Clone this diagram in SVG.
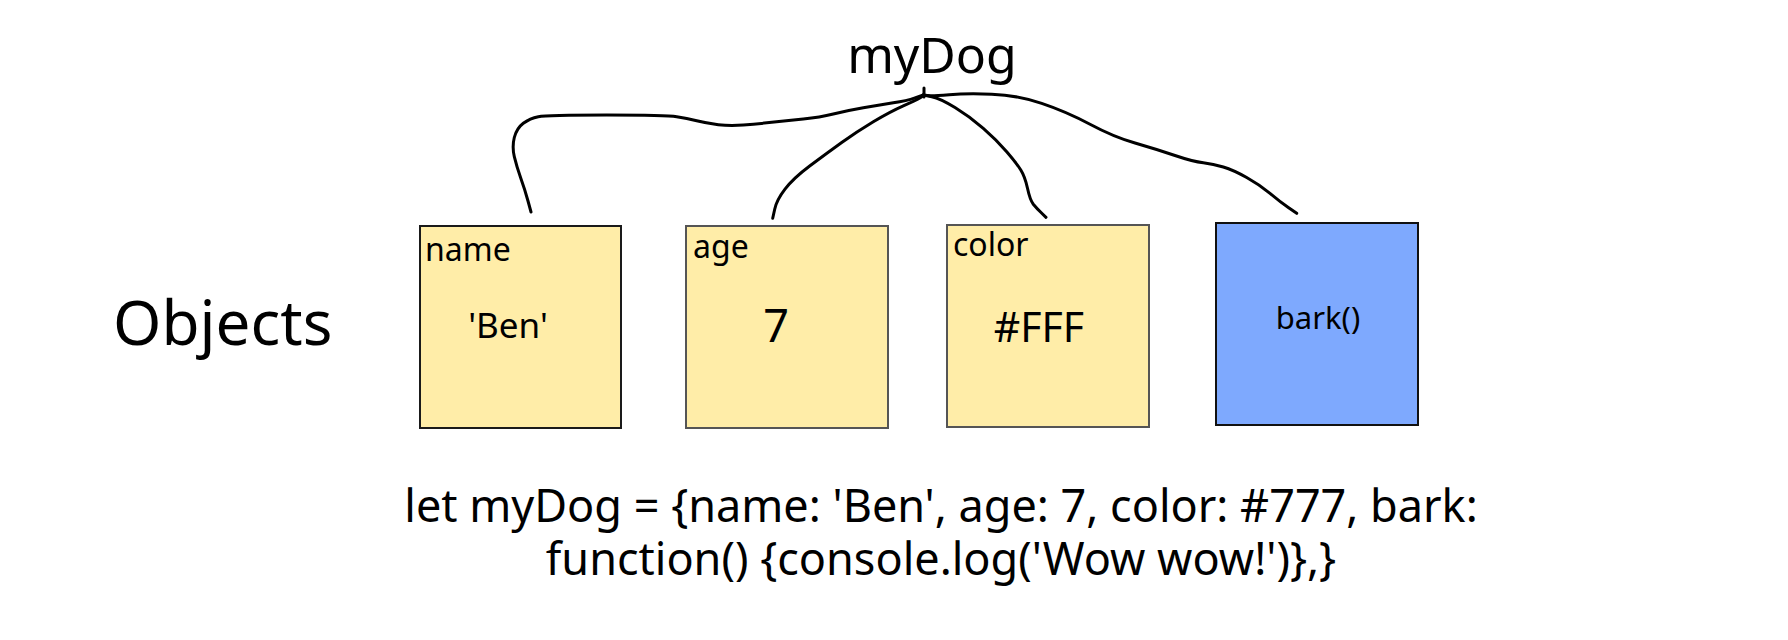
<svg xmlns="http://www.w3.org/2000/svg" width="1788" height="640" viewBox="0 0 1788 640">
<style>
text{font-family:"Noto Sans","Open Sans","DejaVu Sans",sans-serif;fill:#000}
.lbl{font-size:32px}
.val{text-anchor:middle}
.box{fill:#FFEDA8;stroke-width:2}
.blue{fill:#7EA9FE;stroke:#111;stroke-width:2}
.wire{fill:none;stroke:#000;stroke-width:3;stroke-linecap:round;stroke-linejoin:round}
</style>
<rect width="1788" height="640" fill="#fff"/>
<g id="title"><text x="932" y="73" class="val" font-size="50">myDog</text></g>
<g id="objects-label"><text x="113" y="345" font-size="62">Objects</text></g>
<g id="connectors">
<path class="wire" d="M531,212 L528,201 Q525,190 520.8,178.3 Q516.7,166.7 514.3,156.7 Q512,146.7 514.3,137.5 Q516.7,128.3 523.3,123.3 Q530,118.3 538.3,116.7 Q546.7,115 606.7,115 Q666.7,115 676.7,116.7 Q686.7,118.3 696.7,120.8 Q706.7,123.3 718.3,124.7 Q730,126 743.3,125 Q756.7,124 771.7,122.3 Q786.7,120.7 803.3,119 Q820,117.3 833.3,114 Q846.7,110.7 863.3,107.8 Q880,105 893.3,102.8 Q906.7,100.7 915,97.8 L923.3,95"/>
<path class="wire" d="M772.7,218.3 L774.7,209.2 Q776.7,200 785,189.2 Q793.3,178.3 810,165.8 Q826.7,153.3 841.7,142.5 Q856.7,131.7 873.3,121.7 Q890,111.7 903.3,105.8 Q916.7,100 919.8,98 L923,96"/>
<path class="wire" d="M923.3,95 L931.7,96.7 Q940,98.3 955,107.5 Q970,116.7 983.3,128.3 Q996.7,140 1006.7,151.7 Q1016.7,163.3 1020.8,170 Q1025,176.7 1027.5,188.3 Q1030,200 1033.3,204.2 Q1036.7,208.3 1041.3,212.8 L1046,217.3"/>
<path class="wire" d="M923.3,95 L927.5,95.5 Q931.7,96 949.2,94.7 Q966.7,93.3 991.7,94.2 Q1016.7,95 1041.7,103.3 Q1066.7,111.7 1090,124.2 Q1113.3,136.7 1135,143 Q1156.7,149.3 1175,155.5 Q1193.3,161.7 1203.3,162.8 Q1213.3,164 1223.3,167 Q1233.3,170 1246.7,177.5 Q1260,185 1270,193.3 Q1280,201.7 1288.3,207.5 L1296.7,213.3"/>
<path class="wire" d="M924,88 L924,97"/>
</g>
<g id="node-name">
<rect class="box" x="420" y="226" width="201" height="202" stroke="#1a1a1a"/>
<text class="lbl" x="425" y="261">name</text>
<text class="val" x="508" y="338" font-size="35">'Ben'</text>
</g>
<g id="node-age">
<rect class="box" x="686" y="226" width="202" height="202" stroke="#555"/>
<text class="lbl" x="693" y="258">age</text>
<text class="val" x="776" y="342" font-size="45">7</text>
</g>
<g id="node-color">
<rect class="box" x="947" y="225" width="202" height="202" stroke="#555"/>
<text class="lbl" x="953" y="256">color</text>
<text class="val" x="1039" y="342" font-size="41">#FFF</text>
</g>
<g id="node-bark">
<rect class="blue" x="1216" y="223" width="202" height="202"/>
<text class="val" x="1318" y="329" font-size="31">bark()</text>
</g>
<g id="code">
<text class="val" x="941" y="522" font-size="45">let myDog = {name: 'Ben', age: 7, color: #777, bark:</text>
<text class="val" x="941" y="575" font-size="45">function() {console.log('Wow wow!')},}</text>
</g>
</svg>
